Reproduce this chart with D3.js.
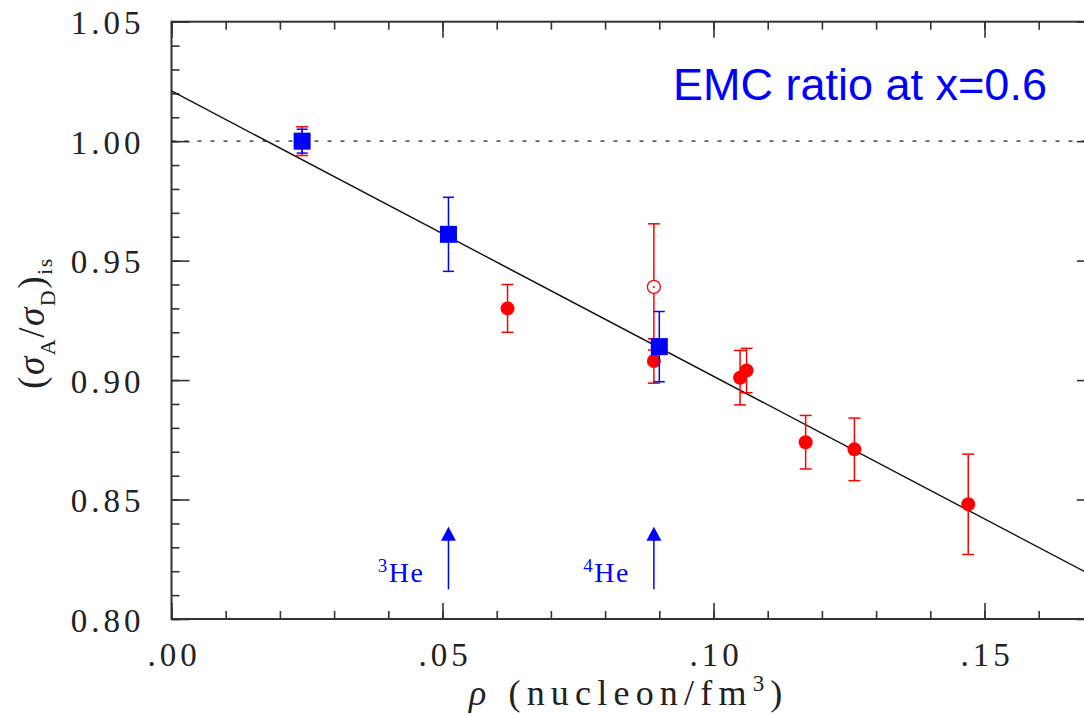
<!DOCTYPE html>
<html>
<head>
<meta charset="utf-8">
<script src="https://cdn.jsdelivr.net/npm/d3@7"></script>
<style>
  html, body { margin: 0; padding: 0; background: #fff; }
  svg { display: block; overflow: hidden; }
  .tick text { font-family: "Liberation Serif", serif; font-size: 33px; letter-spacing: 4px; fill: #222; }
</style>
</head>
<body>
<div id="chart"></div>
<script>
"use strict";

// Red points: filled circles (nuclei)
const redRho   = [0.0241, 0.0620, 0.0890, 0.1049, 0.1061, 0.1170, 0.1260, 0.1470];
const redRatio = [1.000, 0.930, 0.908, 0.901, 0.904, 0.874, 0.871, 0.848];
const redErr   = [0.006, 0.010, 0.0093, 0.0114, 0.0093, 0.0112, 0.0131, 0.021];

// Red open circle
const openRho   = [0.0890];
const openRatio = [0.939];
const openErr   = [0.0264];

// Blue squares (light nuclei)
const blueRho   = [0.0241, 0.0511, 0.0900];
const blueRatio = [1.000, 0.961, 0.914];
const blueErr   = [0.005, 0.0155, 0.0147];

// Linear fit
const fitIntercept = 1.021;
const fitSlope = -1.194;

// Arrows marking helium densities
const arrowRho = [0.0511, 0.0890];
const arrowMass = ["3", "4"];

const xMajor = [0, 0.05, 0.10, 0.15];
const yMajor = [0.80, 0.85, 0.90, 0.95, 1.00, 1.05];

const W = 1084, H = 715;
const plotLeft = 171.5, plotTop = 21.7, plotBottom = 619;
const plotRight = plotLeft + 0.17 * 5420;

const x = d3.scaleLinear().domain([0, 0.17]).range([plotLeft, plotRight]);
const y = d3.scaleLinear().domain([0.80, 1.05]).range([plotBottom, plotTop]);

const svg = d3.select("#chart").append("svg")
    .attr("width", W)
    .attr("height", H);

const axisColor = "#333";

// Frame
svg.append("rect")
    .attr("x", plotLeft).attr("y", plotTop)
    .attr("width", plotRight - plotLeft).attr("height", plotBottom - plotTop)
    .attr("fill", "none")
    .attr("stroke", axisColor)
    .attr("stroke-width", 2);

const minorX = d3.range(0, 0.1701, 0.01);
const minorY = d3.range(0.80, 1.0501, 0.01);

const fmtX = d => d3.format(".2f")(d).replace(/^0/, "");

//#region Axes
const addAxis = (axis, transform, hideText) => {
    const g = svg.append("g").attr("transform", transform).call(axis);
    g.select(".domain").remove();
    g.selectAll(".tick line").attr("stroke", axisColor).attr("stroke-width", 1.6);
    if (hideText) g.selectAll("text").remove();
    return g;
};

// bottom
addAxis(d3.axisBottom(x).tickValues(minorX).tickSize(-8), `translate(0,${plotBottom})`, true);
const gx = addAxis(d3.axisBottom(x).tickValues(xMajor).tickSize(-16).tickFormat(fmtX), `translate(0,${plotBottom})`, false);
gx.selectAll("text").attr("y", 47).attr("dy", 0).attr("dx", 2);
// top
addAxis(d3.axisTop(x).tickValues(minorX).tickSize(-8), `translate(0,${plotTop})`, true);
addAxis(d3.axisTop(x).tickValues(xMajor).tickSize(-16), `translate(0,${plotTop})`, true);
// left
addAxis(d3.axisLeft(y).tickValues(minorY).tickSize(-8), `translate(${plotLeft},0)`, true);
const gy = addAxis(d3.axisLeft(y).tickValues(yMajor).tickSize(-18).tickFormat(d3.format(".2f")), `translate(${plotLeft},0)`, false);
gy.selectAll("text").attr("x", -27).attr("dy", 12);
// right
addAxis(d3.axisRight(y).tickValues(minorY).tickSize(-8), `translate(${plotRight},0)`, true);
addAxis(d3.axisRight(y).tickValues(yMajor).tickSize(-16), `translate(${plotRight},0)`, true);
//#endregion

// Dotted line at unity
svg.append("line")
    .attr("x1", x(0)).attr("x2", plotRight)
    .attr("y1", y(1)).attr("y2", y(1))
    .attr("stroke", "#222")
    .attr("stroke-width", 1.2)
    .attr("stroke-dasharray", "4,9");

// Fit line
const fitLine = d3.line().x(d => x(d)).y(d => y(fitIntercept + fitSlope * d));
svg.append("path")
    .attr("d", fitLine([0, 0.17]))
    .attr("fill", "none")
    .attr("stroke", "#111")
    .attr("stroke-width", 1.4);

// Error bars helper
const drawErrors = (rho, val, err, color, cap) => {
    const g = svg.append("g").attr("stroke", color).attr("stroke-width", 1.5);
    rho.forEach((r, i) => {
        const cx = x(r), y1 = y(val[i] + err[i]), y2 = y(val[i] - err[i]);
        g.append("line").attr("x1", cx).attr("x2", cx).attr("y1", y1).attr("y2", y2);
        g.append("line").attr("x1", cx - cap).attr("x2", cx + cap).attr("y1", y1).attr("y2", y1);
        g.append("line").attr("x1", cx - cap).attr("x2", cx + cap).attr("y1", y2).attr("y2", y2);
    });
};

// Red data
drawErrors(redRho, redRatio, redErr, "#ff0000", 6);
drawErrors(openRho, openRatio, openErr, "#ff0000", 6);

svg.append("g").selectAll("circle")
    .data(redRho)
    .join("circle")
    .attr("cx", d => x(d))
    .attr("cy", (d, i) => y(redRatio[i]))
    .attr("r", 7)
    .attr("fill", "#ff0000");

const og = svg.append("g");
og.selectAll("circle.open")
    .data(openRho)
    .join("circle")
    .attr("class", "open")
    .attr("cx", d => x(d))
    .attr("cy", (d, i) => y(openRatio[i]))
    .attr("r", 6.5)
    .attr("fill", "#fff")
    .attr("stroke", "#ff0000")
    .attr("stroke-width", 1.3);
og.selectAll("circle.dot")
    .data(openRho)
    .join("circle")
    .attr("class", "dot")
    .attr("cx", d => x(d))
    .attr("cy", (d, i) => y(openRatio[i]))
    .attr("r", 1)
    .attr("fill", "#ff0000");

// Blue data
drawErrors(blueRho, blueRatio, blueErr, "#0000ff", 5.5);
const sq = 17;
svg.append("g").selectAll("rect")
    .data(blueRho)
    .join("rect")
    .attr("x", d => x(d) - sq / 2)
    .attr("y", (d, i) => y(blueRatio[i]) - sq / 2)
    .attr("width", sq)
    .attr("height", sq)
    .attr("fill", "#0000ff");

// Helium arrows
const arrowTop = 0.8386, arrowBottom = 0.8124;
arrowRho.forEach((r, i) => {
    const ax = x(r), yt = y(arrowTop);
    svg.append("line")
        .attr("x1", ax).attr("x2", ax)
        .attr("y1", y(arrowBottom)).attr("y2", yt + 10)
        .attr("stroke", "#0000ff").attr("stroke-width", 1.5);
    svg.append("path")
        .attr("d", `M${ax},${yt} L${ax - 7.5},${yt + 14} L${ax + 7.5},${yt + 14} Z`)
        .attr("fill", "#0000ff");
    const t = svg.append("text")
        .attr("x", ax - 24)
        .attr("y", 582)
        .attr("text-anchor", "end")
        .attr("font-family", "Liberation Serif, serif")
        .attr("font-size", 28)
        .attr("letter-spacing", 1.5)
        .attr("fill", "#0000ff");
    t.append("tspan").attr("font-size", 19).attr("dy", -10).text(arrowMass[i]);
    t.append("tspan").attr("dy", 10).text("He");
});

// Title text
svg.append("text")
    .attr("x", 673)
    .attr("y", 100)
    .attr("font-family", "Liberation Sans, Arial, sans-serif")
    .attr("font-size", 45)
    .attr("fill", "#0000ff")
    .text("EMC ratio at x=0.6");

// X axis label
const xl = svg.append("text")
    .attr("x", 469)
    .attr("y", 705)
    .attr("font-family", "Liberation Serif, serif")
    .attr("font-size", 36)
    .attr("letter-spacing", 6.2)
    .attr("fill", "#222");
xl.append("tspan").attr("font-style", "italic").text("ρ");
xl.append("tspan").attr("dx", 16).text("(nucleon/fm");
xl.append("tspan").attr("font-size", 23).attr("dy", -14).text("3");
xl.append("tspan").attr("dy", 14).text(")");

// Y axis label
const yl = svg.append("text")
    .attr("transform", "translate(44,323) rotate(-90)")
    .attr("text-anchor", "middle")
    .attr("font-family", "Liberation Serif, serif")
    .attr("font-size", 37)
    .attr("letter-spacing", 1.5)
    .attr("fill", "#222");
yl.append("tspan").text("(");
yl.append("tspan").attr("font-style", "italic").text("σ");
yl.append("tspan").attr("font-size", 22).attr("dy", 11).text("A");
yl.append("tspan").attr("dy", -11).text("/");
yl.append("tspan").attr("font-style", "italic").text("σ");
yl.append("tspan").attr("font-size", 22).attr("dy", 11).text("D");
yl.append("tspan").attr("dy", -11).text(")");
yl.append("tspan").attr("font-size", 22).attr("dy", 8).text("is");
</script>
</body>
</html>
